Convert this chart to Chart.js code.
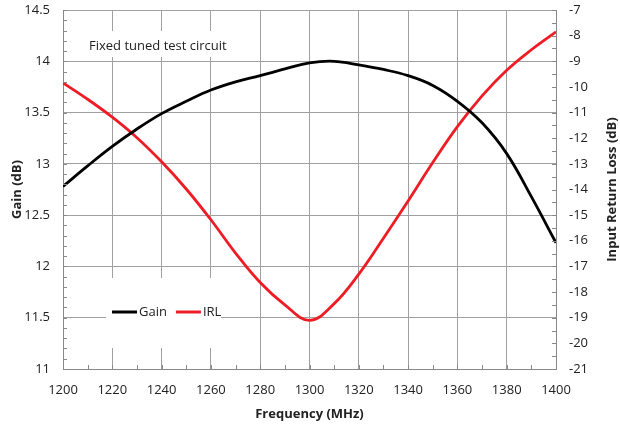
<!DOCTYPE html>
<html>
<head>
<meta charset="utf-8">
<script src="https://cdn.jsdelivr.net/npm/chart.js@4.4.0/dist/chart.umd.min.js"></script>
<style>
  html, body { margin: 0; padding: 0; background: #fff; }
  #wrap { width: 620px; height: 425px; position: relative; }
</style>
</head>
<body>
<div id="wrap"><canvas id="grafico"></canvas></div>
<script>
// Datos
const frecuencias = [1200, 1210, 1220, 1230, 1240, 1250, 1260, 1270, 1280, 1290, 1300, 1310, 1320, 1330, 1340, 1350, 1360, 1370, 1380, 1390, 1400];
const ganancia = [12.78, 12.98, 13.17, 13.34, 13.49, 13.61, 13.72, 13.80, 13.86, 13.925, 13.985, 14.0, 13.965, 13.92, 13.86, 13.765, 13.61, 13.40, 13.10, 12.68, 12.23];
const irl = [-9.84, -10.48, -11.18, -11.98, -12.92, -13.98, -15.18, -16.48, -17.63, -18.5, -19.1, -18.45, -17.3, -15.9, -14.45, -12.95, -11.55, -10.35, -9.35, -8.55, -7.85];
const nombresSeries = ["Gain", "IRL"];
const coloresSeries = ["#000000", "#ee1c25"];
const nota = "Fixed tuned test circuit";

const fuente = "'Open Sans', 'Liberation Sans', sans-serif";
const colorGrid = "#a0a0a0";

// Helper: convertir arrays a puntos {x, y}
function puntos(ys) {
  return frecuencias.map((f, i) => ({ x: f, y: ys[i] }));
}

// Helper: etiqueta sin separador de miles
const etiqueta = v => String(v);

// Helper: ancho fijo del eje vertical y margen superior de 10px
const ajustarEjeY = ancho => s => { s.width = ancho; s.paddingTop = 10; };

// ----------- Plugin: marcas menores, nota, leyenda y titulo derecho -----------
const extras = {
  id: "extras",
  afterDatasetsDraw(chart) {
    const { ctx, chartArea: a, scales } = chart;
    ctx.save();

    // marcas menores hacia dentro
    ctx.strokeStyle = "#888";
    ctx.lineWidth = 1;
    ctx.beginPath();
    for (let i = 0; i <= 35; i++) {
      const y = Math.round(scales.y.getPixelForValue(11 + i * 0.1)) + 0.5;
      ctx.moveTo(a.left, y); ctx.lineTo(a.left + 4, y);
    }
    for (let i = 0; i <= 20; i++) {
      const x = Math.round(scales.x.getPixelForValue(1200 + i * 10)) + 0.5;
      ctx.moveTo(x, a.bottom); ctx.lineTo(x, a.bottom - 4);
    }
    for (let i = 0; i <= 28; i++) {
      const y = Math.round(scales.y2.getPixelForValue(-21 + i * 0.5)) + 0.5;
      ctx.moveTo(a.right, y); ctx.lineTo(a.right - 4, y);
    }
    ctx.stroke();

    ctx.font = "13px " + fuente;
    ctx.textBaseline = "middle";

    // nota con fondo blanco
    ctx.fillStyle = "#fff";
    ctx.fillRect(84, 31, 152, 26);
    ctx.fillStyle = "#222";
    ctx.textAlign = "left";
    ctx.fillText(nota, 89, 46);

    // leyenda con fondo blanco
    ctx.fillStyle = "#fff";
    ctx.fillRect(106, 278, 115, 70);
    let x = 112;
    const yl = 312;
    nombresSeries.forEach((nombre, i) => {
      ctx.strokeStyle = coloresSeries[i];
      ctx.lineWidth = 3;
      ctx.beginPath();
      ctx.moveTo(x, yl); ctx.lineTo(x + 25, yl);
      ctx.stroke();
      ctx.fillStyle = "#222";
      ctx.fillText(nombre, x + 27, yl);
      x += 27 + ctx.measureText(nombre).width + 9;
    });

    // titulo del eje derecho (de abajo hacia arriba)
    ctx.translate(612, (a.top + a.bottom) / 2);
    ctx.rotate(-Math.PI / 2);
    ctx.textAlign = "center";
    ctx.font = "bold 13px " + fuente;
    ctx.fillStyle = "#222";
    ctx.fillText("Input Return Loss (dB)", 0, 0);
    ctx.restore();
  }
};

function renderGrafico() {
  const ctx = document.getElementById("grafico");
  new Chart(ctx, {
    type: "line",
    data: {
      datasets: [
        {
          label: nombresSeries[0],
          data: puntos(ganancia),
          borderColor: coloresSeries[0],
          borderWidth: 2.8,
          pointRadius: 0,
          tension: 0.4,
          yAxisID: "y"
        },
        {
          label: nombresSeries[1],
          data: puntos(irl),
          borderColor: coloresSeries[1],
          borderWidth: 2.8,
          pointRadius: 0,
          tension: 0.4,
          yAxisID: "y2"
        }
      ]
    },
    options: {
      responsive: true,
      maintainAspectRatio: false,
      animation: false,
      layout: { padding: 0 },
      plugins: { legend: { display: false }, tooltip: { enabled: false } },
      scales: {
        x: {
          type: "linear",
          min: 1200,
          max: 1400,
          afterFit: s => { s.height = 56; },
          ticks: { stepSize: 20, padding: 13, color: "#222", callback: etiqueta, font: { family: fuente, size: 13 } },
          grid: { color: colorGrid, drawTicks: false },
          border: { color: "#888" },
          title: { display: true, text: "Frequency (MHz)", color: "#222", padding: { top: 0, bottom: 3 }, font: { family: fuente, size: 13, weight: "bold" } }
        },
        y: {
          position: "left",
          min: 11,
          max: 14.5,
          afterFit: ajustarEjeY(63),
          ticks: { stepSize: 0.5, padding: 13, color: "#222", callback: etiqueta, font: { family: fuente, size: 13 } },
          grid: { color: colorGrid, drawTicks: false },
          border: { color: "#888" },
          title: { display: true, text: "Gain (dB)", color: "#222", padding: { top: 9, bottom: 0 }, font: { family: fuente, size: 13, weight: "bold" } }
        },
        y2: {
          position: "right",
          min: -21,
          max: -7,
          afterFit: ajustarEjeY(64),
          ticks: { stepSize: 1, padding: 13, color: "#222", callback: etiqueta, font: { family: fuente, size: 13 } },
          grid: { display: false, drawTicks: false },
          border: { color: "#888" }
        }
      }
    },
    plugins: [extras]
  });
}

document.addEventListener("DOMContentLoaded", renderGrafico);
</script>
</body>
</html>
